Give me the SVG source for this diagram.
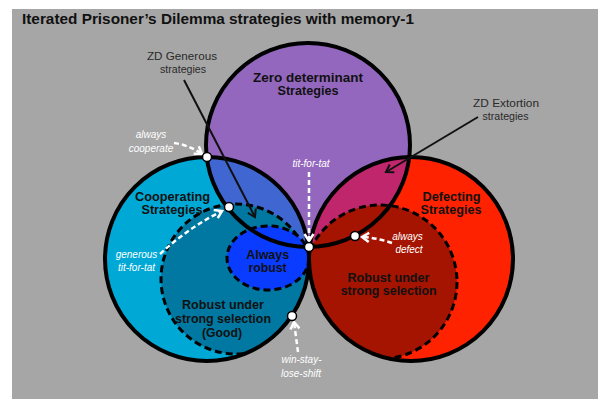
<svg xmlns="http://www.w3.org/2000/svg" width="604" height="403" viewBox="0 0 604 403">
<style>
.ol{stroke:#000;stroke-width:4;fill:none}
.dash{stroke:#000;stroke-width:3;stroke-dasharray:7 4;fill:none}
.lbl{font-family:"Liberation Sans",Arial,sans-serif;font-weight:bold;font-size:12px;fill:#111;text-anchor:middle}
.zd{font-family:"Liberation Sans",Arial,sans-serif;font-size:11.5px;fill:#2a2a2a;text-anchor:middle}
.wl{font-family:"Liberation Sans",Arial,sans-serif;font-style:italic;font-size:10px;fill:#fff;text-anchor:middle}
.dot{fill:#fff;stroke:#000;stroke-width:1.5}
.wa{stroke:#fff;stroke-width:2.5;stroke-dasharray:5 3;fill:none}
.ba{stroke:#111;stroke-width:2;fill:none}
</style>
<defs>
<clipPath id="clipB"><circle cx="207" cy="259" r="102"/></clipPath>
<clipPath id="clipR"><circle cx="411" cy="259" r="102"/></clipPath>
<marker id="mb" markerUnits="userSpaceOnUse" markerWidth="12" markerHeight="12" viewBox="0 0 12 12" refX="10" refY="6" orient="auto">
<path d="M3,1.5 L10,6 L3,10.5" fill="none" stroke="#111" stroke-width="2"/>
</marker>
<marker id="mw" markerUnits="userSpaceOnUse" markerWidth="12" markerHeight="12" viewBox="0 0 12 12" refX="10" refY="6" orient="auto">
<path d="M3,1.5 L10,6 L3,10.5" fill="none" stroke="#fff" stroke-width="2.5" stroke-dasharray="none"/>
</marker>
</defs>
<rect x="12" y="9" width="586" height="390" fill="#a6a6a6"/>
<text x="22" y="24" font-family="Liberation Sans, Arial, sans-serif" font-weight="bold" font-size="15.5" fill="#111" textLength="392" lengthAdjust="spacingAndGlyphs">Iterated Prisoner’s Dilemma strategies with memory-1</text>

<g id="zero-determinant"><circle cx="308" cy="145" r="102" fill="#9367bd"/></g>
<g id="cooperating"><circle cx="207" cy="259" r="102" fill="#00a8d5"/></g>
<g id="defecting"><circle cx="411" cy="259" r="102" fill="#ff2200"/></g>
<g id="zd-generous"><circle cx="308" cy="145" r="102" fill="#4066d2" clip-path="url(#clipB)"/></g>
<g id="zd-extortion"><circle cx="308" cy="145" r="102" fill="#c0266c" clip-path="url(#clipR)"/></g>
<g id="robust-good" clip-path="url(#clipB)">
<circle cx="236" cy="279" r="75" fill="#0078a2"/>
<circle cx="236" cy="279" r="75" class="dash"/>
</g>
<g id="robust-defect" clip-path="url(#clipR)">
<circle cx="380" cy="282" r="77" fill="#a51400"/>
<circle cx="380" cy="282" r="77" class="dash"/>
</g>
<g id="always-robust" clip-path="url(#clipB)">
<ellipse cx="268" cy="258" rx="41" ry="32" fill="#0a3cff"/>
<ellipse cx="268" cy="258" rx="41" ry="32" class="dash"/>
</g>
<g id="outlines">
<circle cx="207" cy="259" r="102" class="ol"/>
<circle cx="411" cy="259" r="102" class="ol"/>
<circle cx="308" cy="145" r="102" class="ol"/>
</g>

<g id="labels">
<text class="lbl" font-size="12.5" x="308" y="81.5" textLength="110" lengthAdjust="spacingAndGlyphs">Zero determinant</text>
<text class="lbl" font-size="12.5" x="308" y="95" textLength="61" lengthAdjust="spacingAndGlyphs">Strategies</text>
<text class="lbl" x="172.5" y="200.5" textLength="75" lengthAdjust="spacingAndGlyphs">Cooperating</text>
<text class="lbl" x="172" y="214" textLength="61" lengthAdjust="spacingAndGlyphs">Strategies</text>
<text class="lbl" x="451.5" y="200.5" textLength="58" lengthAdjust="spacingAndGlyphs">Defecting</text>
<text class="lbl" x="451" y="214" textLength="61" lengthAdjust="spacingAndGlyphs">Strategies</text>
<text class="lbl" x="267.7" y="258.5" textLength="43" lengthAdjust="spacingAndGlyphs">Always</text>
<text class="lbl" x="267.5" y="272" textLength="38" lengthAdjust="spacingAndGlyphs">robust</text>
<text class="lbl" x="223" y="309" textLength="82" lengthAdjust="spacingAndGlyphs">Robust under</text>
<text class="lbl" x="223" y="323" textLength="96" lengthAdjust="spacingAndGlyphs">strong selection</text>
<text class="lbl" x="222" y="337" textLength="40" lengthAdjust="spacingAndGlyphs">(Good)</text>
<text class="lbl" x="388.5" y="281.5" textLength="82" lengthAdjust="spacingAndGlyphs">Robust under</text>
<text class="lbl" x="388.7" y="295" textLength="96" lengthAdjust="spacingAndGlyphs">strong selection</text>
<text class="zd" x="182" y="60" textLength="70" lengthAdjust="spacingAndGlyphs">ZD Generous</text>
<text class="zd" x="183" y="73" textLength="46" lengthAdjust="spacingAndGlyphs">strategies</text>
<text class="zd" x="506" y="107" textLength="66" lengthAdjust="spacingAndGlyphs">ZD Extortion</text>
<text class="zd" x="505.5" y="120" textLength="46" lengthAdjust="spacingAndGlyphs">strategies</text>
</g>

<g id="connectors">
<path class="ba" d="M184,80 L255,217" marker-end="url(#mb)"/>
<path class="ba" d="M478,117 L386,172" marker-end="url(#mb)"/>
<path class="wa" d="M174,143 Q189,145 202,154" marker-end="url(#mw)"/>
<path class="wa" d="M160,254 Q188,228 222,211" marker-end="url(#mw)"/>
<path class="wa" d="M309,172 L309,241" marker-end="url(#mw)"/>
<path class="wa" d="M392,243 Q378,238 362,237" marker-end="url(#mw)"/>
<path class="wa" d="M298,352 L294,322" marker-end="url(#mw)"/>
</g>

<g id="always-cooperate"><circle class="dot" cx="207" cy="157" r="4.5"/>
<text class="wl" x="151" y="137.5">always</text><text class="wl" x="151" y="151.7">cooperate</text></g>
<g id="generous-tit-for-tat"><circle class="dot" cx="229" cy="207" r="4.5"/>
<text class="wl" x="136.5" y="258.3">generous</text><text class="wl" x="136.5" y="270.7">tit-for-tat</text></g>
<g id="tit-for-tat"><circle class="dot" cx="309" cy="247" r="4.5"/>
<text class="wl" x="311" y="166.7">tit-for-tat</text></g>
<g id="always-defect"><circle class="dot" cx="355" cy="236" r="4.5"/>
<text class="wl" x="407.5" y="240">always</text><text class="wl" x="409" y="253.3">defect</text></g>
<g id="win-stay-lose-shift"><circle class="dot" cx="292" cy="316" r="4.5"/>
<text class="wl" x="301.5" y="362.7">win-stay-</text><text class="wl" x="301" y="376.7">lose-shift</text></g>
</svg>
